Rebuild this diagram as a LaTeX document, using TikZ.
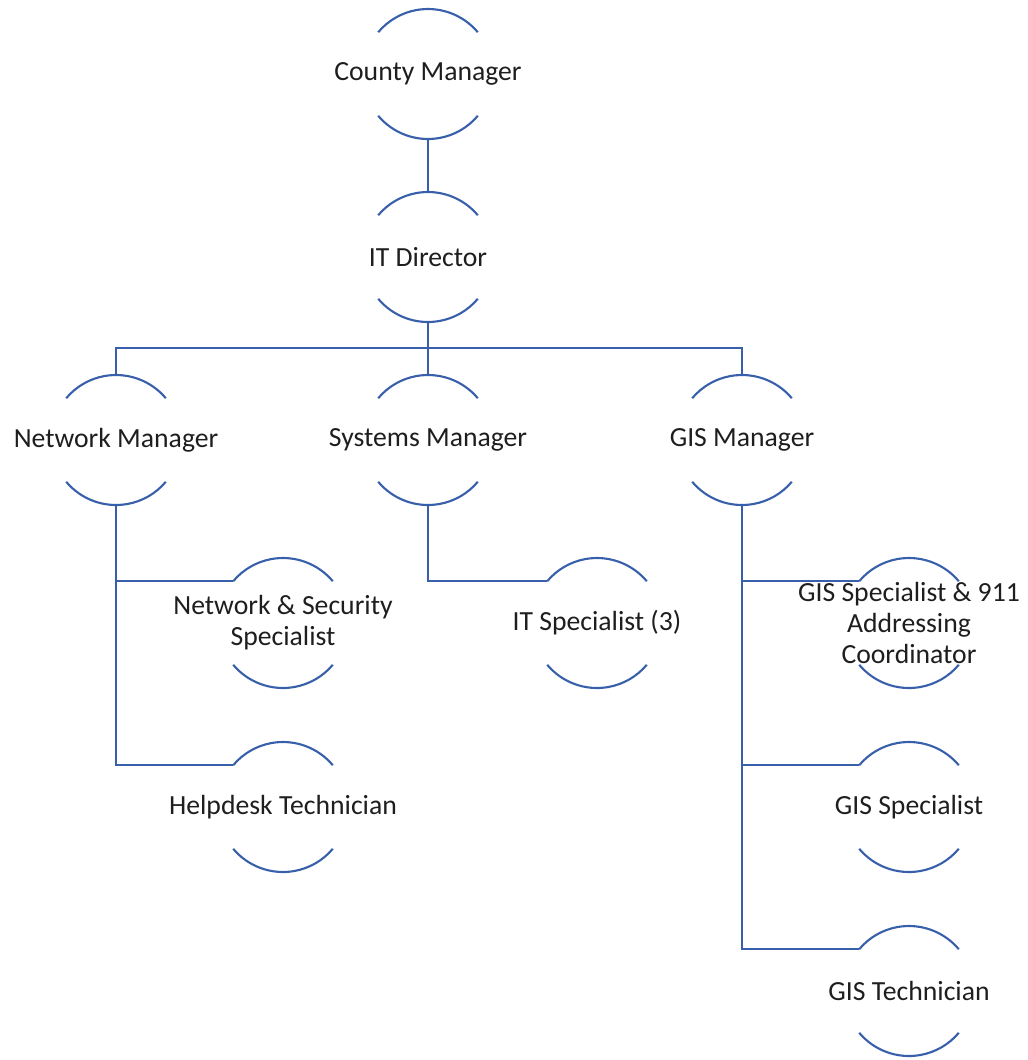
\documentclass[tikz,border=0pt]{standalone}
\usepackage{fontspec}
\setmainfont{Carlito}
\usetikzlibrary{positioning,calc}
\definecolor{ink}{RGB}{30,30,30}
\definecolor{rule}{RGB}{55,95,170}
\newcommand\rr{16.25mm}
\tikzset{
  role/.style={minimum height=32.5mm,inner sep=0pt,text=ink,align=center,
    font=\fontsize{19.7}{22}\selectfont},
  rim/.style={draw=rule,line width=1.5pt},
  link/.style={draw=rule,line width=1.5pt},
}
\newcommand\rolearcs[1]{%
  \draw[rim] ([shift={(40:\rr)}]#1.center) arc[start angle=40,end angle=140,radius=\rr]
    ([shift={(220:\rr)}]#1.center) arc[start angle=220,end angle=320,radius=\rr];}

\begin{document}
\begin{tikzpicture}[x=0.25mm,y=-0.25mm]
\useasboundingbox (0,0) rectangle (1028,1060);
% top of the chart
\node[role] (cm) at (428,74) {County Manager};
\node[role] (itd) at (428,257) {IT Director};
% managers
\node[role] (nm) at (116,440) {Network Manager};
\node[role] (sm) at (428,440) {Systems Manager};
\node[role] (gm) at (742,440) {GIS Manager};
% staff
\node[role] (nss) at (283,623) {Network \& Security\\Specialist};
\node[role] (hdt) at (283,807) {Helpdesk Technician};
\node[role] (its) at (597,623) {IT Specialist (3)};
\node[role] (gsa) at (909,623) {GIS Specialist \& 911\\Addressing\\Coordinator};
\node[role] (gsp) at (909,807) {GIS Specialist};
\node[role] (gte) at (909,991) {GIS Technician};
\foreach \n in {cm,itd,nm,sm,gm,nss,hdt,its,gsa,gsp,gte} {\rolearcs{\n}}
% connectors
\coordinate (bar) at (428,348);
\draw[link] (cm.south) -- (itd.north);
\draw[link] (itd.south) -- (sm.north);
\draw[link] (nm.north) -- (nm.north |- bar) -- (gm.north |- bar) -- (gm.north);
\draw[link] (nm.south) |- ([shift={(140:\rr)}]nss.center);
\draw[link] (nm.south) |- ([shift={(140:\rr)}]hdt.center);
\draw[link] (sm.south) |- ([shift={(140:\rr)}]its.center);
\draw[link] (gm.south) |- ([shift={(140:\rr)}]gsa.center);
\draw[link] (gm.south) |- ([shift={(140:\rr)}]gsp.center);
\draw[link] (gm.south) |- ([shift={(140:\rr)}]gte.center);
\end{tikzpicture}
\end{document}
